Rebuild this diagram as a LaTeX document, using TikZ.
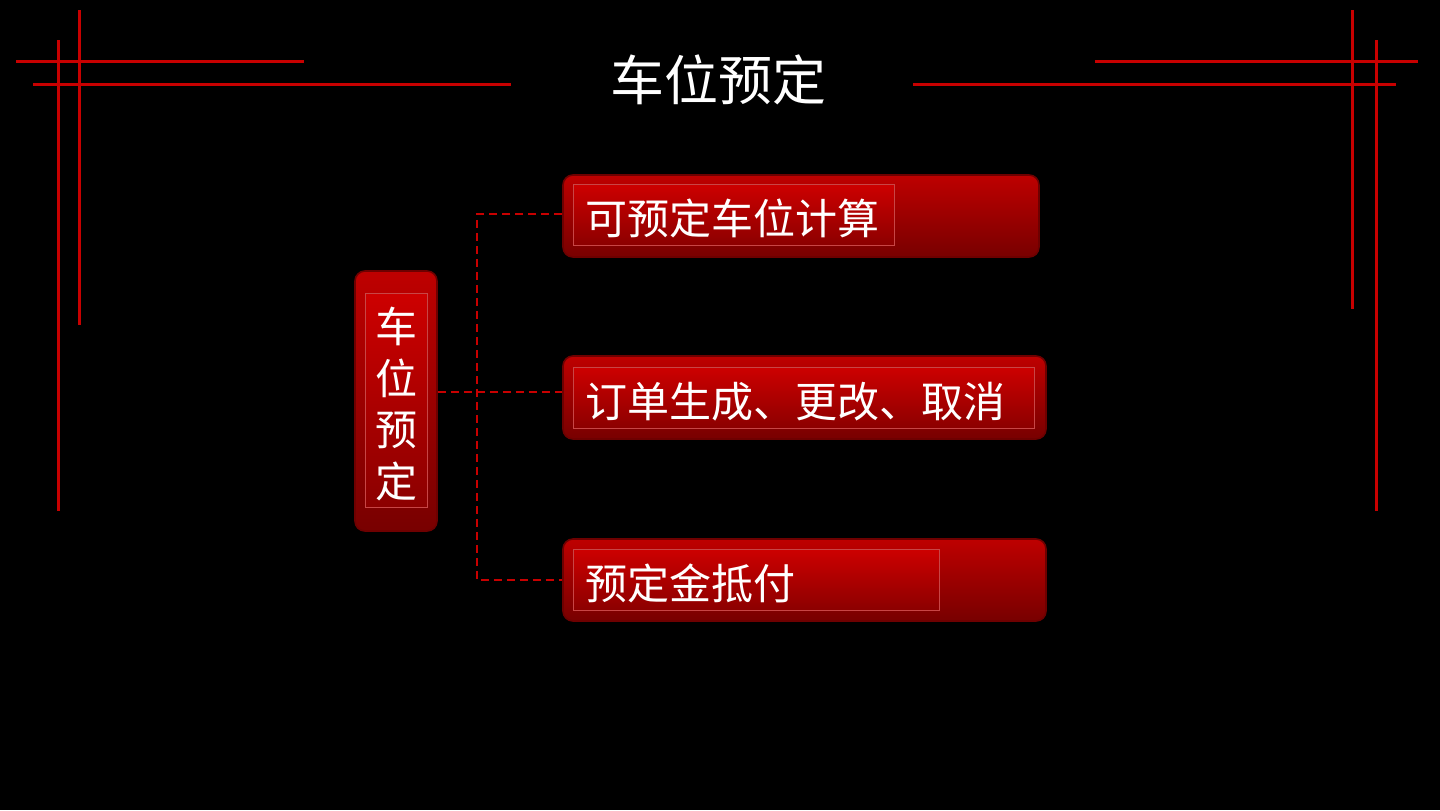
\documentclass[tikz,border=0pt]{standalone}
\usepackage{fontspec}
\setmainfont{Noto Sans CJK SC}
\usetikzlibrary{calc}
\definecolor{lred}{RGB}{200,0,0}
\definecolor{boxtop}{RGB}{190,0,0}
\definecolor{boxbot}{RGB}{120,0,0}
\definecolor{intop}{RGB}{205,0,0}
\definecolor{inbot}{RGB}{140,0,0}
\definecolor{edge}{RGB}{110,0,0}
\definecolor{inedge}{RGB}{200,70,70}
\newcommand{\lowtxt}[1]{\raisebox{-2pt}[\height][\depth]{#1}}
\begin{document}
\begin{tikzpicture}[x=0.5pt,y=-0.5pt,
  frameline/.style={lred,line width=1.5pt},
  outerbox/.style={rounded corners=5pt,top color=boxtop,bottom color=boxbot,draw=edge,line width=0.8pt,inner sep=0pt},
  innerbox/.style={top color=intop,bottom color=inbot,draw=inedge,line width=0.25pt,text=white,inner ysep=0pt,inner xsep=6pt,align=left,minimum height=30.5pt,font=\fontsize{21}{25}\selectfont},
  conn/.style={lred,line width=1pt,dash pattern=on 4pt off 2.5pt}]
\fill[black] (0,0) rectangle (1440,810);
\useasboundingbox (0,0) rectangle (1440,810);
% corner frame lines
\draw[frameline] (16,61) -- (304,61);
\draw[frameline] (33,84) -- (511,84);
\draw[frameline] (58,40) -- (58,511);
\draw[frameline] (79,10) -- (79,325);
\draw[frameline] (1095,61) -- (1418,61);
\draw[frameline] (913,84) -- (1396,84);
\draw[frameline] (1352,10) -- (1352,309);
\draw[frameline] (1376,40) -- (1376,511);
% title
\node[text=white,font=\fontsize{27}{32}\selectfont] (title) at (718,80) {车位预定};
% left node
\node[outerbox,minimum width=41pt,minimum height=130pt] (left) at (396,401) {};
\node[top color=intop,bottom color=inbot,draw=inedge,line width=0.25pt,text=white,inner sep=0pt,minimum width=31pt,minimum height=107pt,align=center,font=\fontsize{21}{25.8}\selectfont] (lefttext) at (396,400) {\lowtxt{车}\\\lowtxt{位}\\\lowtxt{预}\\\lowtxt{定}};
% right boxes
\node[outerbox,minimum width=238pt,minimum height=41pt] (b1) at (801,216) {};
\node[innerbox,anchor=west,text width=148.5pt] (t1) at (573,214.5) {\lowtxt{可预定车位计算}};
\node[outerbox,minimum width=241.5pt,minimum height=41.5pt] (b2) at (804.5,397.5) {};
\node[innerbox,anchor=west,text width=218.5pt] (t2) at (573,397.5) {\lowtxt{订单生成、更改、取消}};
\node[outerbox,minimum width=241.5pt,minimum height=41pt] (b3) at (804.5,580) {};
\node[innerbox,anchor=west,text width=171pt] (t3) at (573,579.5) {\lowtxt{预定金抵付}};
% connectors
\coordinate (trunk) at (477,392);
\draw[conn] (left.east |- trunk) -- (b2.west |- trunk);
\draw[conn] (b1.west |- 0,214) -- (trunk |- 0,214) -- (trunk |- 0,580) -- (b3.west |- 0,580);
\end{tikzpicture}
\end{document}
